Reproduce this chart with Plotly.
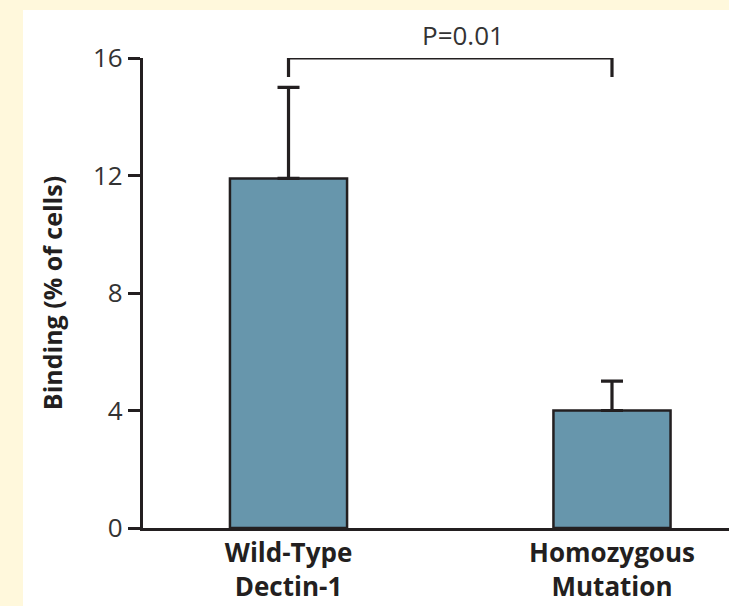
import plotly.graph_objects as go

categories = ["Wild-Type<br>Dectin-1", "Homozygous<br>Mutation"]
positions = [0, 1]
binding = [11.9, 4.0]
error_upper = [15.0, 5.0]
y_ticks = [0, 4, 8, 12, 16]
p_text = "P=0.01"
bracket_top = 16.0
bracket_bottom = 15.35

INK = "#231f20"
BAR = "#6796ac"
CREAM = "#fff8dc"
FONT = "Open Sans"

err_plus = [u - v for u, v in zip(error_upper, binding)]

fig = go.Figure()
fig.add_trace(go.Bar(
    x=positions, y=binding, width=0.362,
    marker=dict(color=BAR, line=dict(color=INK, width=2.5)),
    error_y=dict(type="data", symmetric=False, array=err_plus,
                 arrayminus=[0] * len(binding), color=INK, thickness=3.2, width=11),
    showlegend=False, hoverinfo="skip",
))
fig.add_trace(go.Scatter(
    x=[positions[0], positions[0], positions[1], positions[1]],
    y=[bracket_bottom, bracket_top, bracket_top, bracket_bottom],
    mode="lines", line=dict(color=INK, width=3.2),
    cliponaxis=False, showlegend=False, hoverinfo="skip",
))
fig.add_annotation(x=0.538, y=(528 - 35) / 470, xref="x", yref="paper", text=p_text,
                   showarrow=False, font=dict(family=FONT, size=26, color="#333333"),
                   xanchor="center", yanchor="middle")

fig.add_shape(type="rect", xref="paper", yref="paper",
              x0=(23 - 143) / 586, x1=1.05, y0=-0.2, y1=(528 - 10) / 470,
              fillcolor="white", line=dict(width=0), layer="below")

fig.update_layout(
    width=729, height=606,
    margin=dict(l=143, r=0, t=58, b=78),
    paper_bgcolor=CREAM, plot_bgcolor="white",
    font=dict(family=FONT, color=INK),
    xaxis=dict(range=[-0.4498, 1.3617], tickmode="array", tickvals=positions,
               ticktext=categories, showline=True, linewidth=3.2, linecolor=INK,
               ticks="", showgrid=False, zeroline=False,
               tickfont=dict(family=FONT, size=26, color=INK, weight="bold")),
    yaxis=dict(range=[0, 16], tickmode="array", tickvals=y_ticks,
               ticktext=[str(t) for t in y_ticks],
               showline=True, linewidth=3.2, linecolor=INK,
               ticks="outside", ticklen=12, tickwidth=2.5, tickcolor=INK,
               showgrid=False, zeroline=False, ticklabelstandoff=0,
               tickfont=dict(family=FONT, size=26, color="#333333"),
               title=dict(text="Binding (% of cells)", standoff=24,
                          font=dict(family=FONT, size=25, color=INK, weight="bold"))),
)

fig.write_html("out.html")
